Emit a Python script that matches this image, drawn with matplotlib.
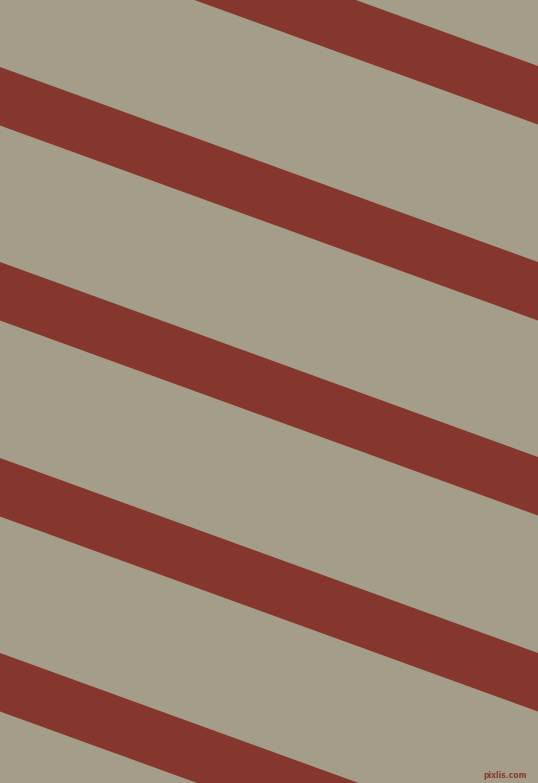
import matplotlib
matplotlib.use("Agg")
import matplotlib.pyplot as plt
import numpy as np

# Data: stripe top-edge intercepts at x=0 (pixels), stripe vertical thickness, slope
stripe_intercepts = [-129, 67, 262, 458, 653]
stripe_thickness = 58.5
stripe_slope = 0.3625
bg_color = "#a39d89"
stripe_color = "#86372d"
W, H = 538, 783

fig = plt.figure(figsize=(W / 100, H / 100), dpi=100)
ax = fig.add_axes([0, 0, 1, 1])
ax.set_xlim(0, W)
ax.set_ylim(H, 0)
ax.axis("off")
fig.patch.set_facecolor(bg_color)
ax.set_facecolor(bg_color)

xs = np.array([0, W])
for b in stripe_intercepts:
    top = b + stripe_slope * xs
    ax.fill_between(xs, top, top + stripe_thickness, color=stripe_color, linewidth=0)

ax.text(527, 776, "pixlis.com", ha="right", va="center", fontsize=5.5,
        color="#8a3a30", family="DejaVu Sans", fontweight="bold")

fig.savefig("out.png", dpi=100, facecolor=bg_color)
